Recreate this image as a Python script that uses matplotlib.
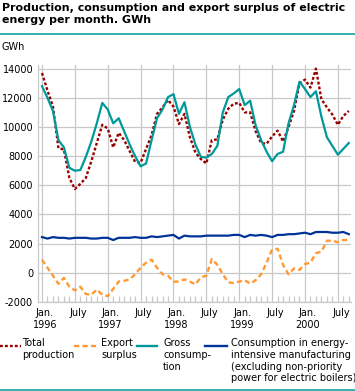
import numpy as np
import matplotlib
matplotlib.use('Agg')
import matplotlib.pyplot as plt
from matplotlib.lines import Line2D
from matplotlib.transforms import ScaledTranslation

# monthly values, Jan 1996 .. Sep 2000 (GWh)
total_production = [13700, 12500, 11400, 8550, 8450, 6500, 5750, 6100, 6500, 7650, 8900, 10150,
                    9900, 8600, 9600, 9100, 8350, 7600, 7550, 8500, 9450, 10900, 11350, 11850,
                    11400, 10200, 10900, 9300, 8250, 7800, 7500, 9100, 9150, 10500, 11250, 11600,
                    11650, 11000, 11000, 9700, 8900, 8850, 9350, 9750, 9000, 10000, 11100, 13000,
                    13250, 12700, 14000, 11900, 11350, 10850, 10150, 10750, 11100]
export_surplus = [900, 350, -200, -750, -350, -950, -1200, -950, -1450, -1500, -1150, -1500,
                  -1600, -1100, -600, -550, -450, -100, 350, 700, 900, 350, -100, -200,
                  -600, -600, -450, -600, -800, -300, -200, 950, 550, -100, -650, -700,
                  -600, -500, -750, -500, -100, 700, 1600, 1650, 550, -100, 300, 200,
                  600, 700, 1350, 1450, 2200, 2200, 2100, 2250, 2250]
gross_consumption = [12800, 12000, 11100, 9100, 8600, 7200, 7000, 7050, 7950, 9000, 10250, 11650,
                     11200, 10250, 10600, 9700, 8800, 8000, 7300, 7500, 9100, 10600, 11200, 12050,
                     12250, 10900, 11700, 10000, 8800, 7950, 7900, 8150, 8700, 11000, 12050, 12300,
                     12600, 11500, 11800, 10100, 9100, 8300, 7650, 8150, 8300, 10250, 11500, 13100,
                     12600, 12050, 12450, 10700, 9300, 8700, 8100, 8500, 8900]
energy_intensive = [2450, 2350, 2450, 2400, 2400, 2350, 2400, 2400, 2400, 2350, 2350, 2400,
                    2400, 2250, 2400, 2400, 2400, 2450, 2400, 2400, 2500, 2450, 2500, 2550,
                    2600, 2350, 2550, 2500, 2500, 2500, 2550, 2550, 2550, 2550, 2550, 2600,
                    2600, 2450, 2600, 2550, 2600, 2550, 2450, 2600, 2600, 2650, 2650, 2700,
                    2750, 2650, 2800, 2800, 2800, 2750, 2750, 2800, 2650]

tick_labels = ['Jan.\n1996', 'July', 'Jan.\n1997', 'July', 'Jan.\n1998', 'July',
               'Jan.\n1999', 'July', 'Jan.\n2000', 'July']
y_ticks = [-2000, 0, 2000, 4000, 6000, 8000, 10000, 12000, 14000]

legend_labels = ['Total\nproduction', 'Export\nsurplus', 'Gross\nconsump-\ntion',
                 'Consumption in energy-\nintensive manufacturing\n(excluding non-priority\npower for electric boilers)']

RED = '#990000'
ORANGE = '#ff9933'
TEAL = '#009999'
BLUE = '#003399'
GRID = '#c8c8c8'

plt.rcParams['font.family'] = 'DejaVu Sans'

W, H = 355, 391
fig = plt.figure(figsize=(W / 100, H / 100), dpi=100)
ax = fig.add_axes([38 / W, 1 - 302 / H, 313 / W, 237 / H])

m = np.arange(len(total_production))
ax.plot(m, total_production, color=RED, lw=1.7, ls=(0, (1.2, 0.9)))
ax.plot(m, export_surplus, color=ORANGE, lw=1.7, ls=(0, (2.2, 1.4)))
ax.plot(m, gross_consumption, color=TEAL, lw=1.6)
ax.plot(m, energy_intensive, color=BLUE, lw=1.6)

ax.set_xlim(-0.73, 56.4)
ax.set_ylim(-2000, 14250)
ax.set_xticks(range(0, 60, 6))
ax.set_xticklabels(tick_labels, fontsize=7, linespacing=1.35)
ax.set_xticks(range(len(m)), minor=True)
ax.set_yticks(y_ticks)
ax.set_yticklabels([str(v) for v in y_ticks], fontsize=7)
ax.grid(True, color=GRID, lw=0.9)
ax.set_axisbelow(True)
ax.tick_params(axis='both', which='major', length=0)
ax.tick_params(axis='x', which='major', pad=4)
ax.tick_params(axis='y', which='major', pad=3.5)
ax.tick_params(axis='x', which='minor', direction='in', length=4.5, width=0.9, color=GRID)
for lab in ax.get_xticklabels():
    lab.set_transform(lab.get_transform() + ScaledTranslation(3 / 100, 0, fig.dpi_scale_trans))
for s in ['top', 'right']:
    ax.spines[s].set_visible(False)
for s in ['left', 'bottom']:
    ax.spines[s].set_color(GRID)
    ax.spines[s].set_linewidth(0.9)

# title and rules
fig.text(2 / W, 1 - 3 / H, 'Production, consumption and export surplus of electric\nenergy per month. GWh',
         fontsize=7.9, fontweight='bold', va='top', ha='left', linespacing=1.2)
fig.add_artist(Line2D([0, 1], [1 - 33.5 / H] * 2, color=TEAL, lw=1.1))
fig.add_artist(Line2D([0, 1], [1 - 389.5 / H] * 2, color=TEAL, lw=1.1))
fig.text(2 / W, 1 - 47 / H, 'GWh', fontsize=7, va='center', ha='left')

# legend
handles = [(RED, (0, (1.2, 0.9)), 0, 20.5, 22),
           (ORANGE, (0, (2.2, 1.4)), 74, 97, 101),
           (TEAL, '-', 137, 157, 163),
           (BLUE, '-', 205, 227, 231)]
for (c, ls, x0, x1, tx), lab in zip(handles, legend_labels):
    fig.add_artist(Line2D([x0 / W, x1 / W], [1 - 346 / H] * 2, color=c, lw=1.7, ls=ls))
    fig.text(tx / W, 1 - 338.5 / H, lab, fontsize=7, va='top', ha='left', linespacing=1.2)

fig.savefig('out.png', dpi=100)
